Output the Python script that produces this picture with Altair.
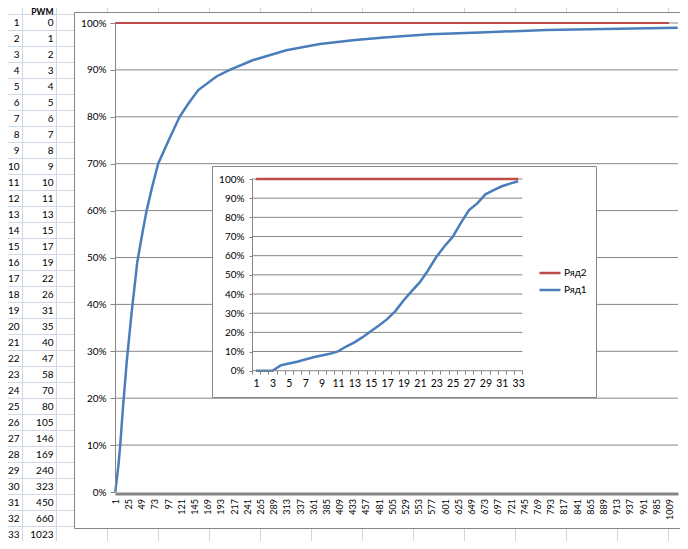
import altair as alt
import pandas as pd

# ---------------- data ----------------
row_numbers = list(range(1, 34))
pwm_values = [0, 1, 2, 3, 4, 5, 6, 7, 8, 9, 10, 11, 13, 15, 17, 19, 22, 26, 31, 35,
              40, 47, 58, 70, 80, 105, 146, 169, 240, 323, 450, 660, 1023]

# big chart: category index (1..1024) and value of "Ряд1"
main_x = [1, 4, 7, 10, 15, 22, 31, 41, 50, 58, 68, 79, 100, 118, 135, 152, 185, 209,
          252, 312, 373, 433, 490, 573, 664, 785, 918, 1024]
main_ryad1 = [0.0, 0.03, 0.06, 0.10, 0.18, 0.28, 0.385, 0.49, 0.55, 0.60, 0.65, 0.70,
              0.755, 0.80, 0.83, 0.857, 0.886, 0.90, 0.921, 0.942, 0.955, 0.963,
              0.969, 0.976, 0.980, 0.985, 0.988, 0.990]
main_ryad2_x = [1, 1008]
main_ryad2 = [1.0, 1.0]

# inset chart: index 1..33
inset_x = list(range(1, 34))
inset_ryad1 = [0.0, 0.0, 0.0, 0.028, 0.038, 0.047, 0.058, 0.07, 0.079, 0.088, 0.101,
               0.126, 0.148, 0.175, 0.206, 0.236, 0.269, 0.311, 0.366, 0.415, 0.462,
               0.524, 0.593, 0.649, 0.698, 0.771, 0.838, 0.873, 0.92, 0.942, 0.962,
               0.976, 0.988]
inset_ryad2 = [1.0] * 33

percent_ticks = [i / 10 for i in range(11)]
main_x_labels = list(range(1, 1010, 24))
inset_x_labels = list(range(1, 34, 2))
series_names = ["Ряд2", "Ряд1"]

# ---------------- layout / style ----------------
W, H = 672, 533
M = 8  # page margin
GRAY = "#868686"
BLUE = "#4a7ebb"
RED = "#be4b48"
SHEET_LINE = "#d0d7e5"
FONT = "Lato"

one = pd.DataFrame({"k": [0]})

# ---------------- spreadsheet background ----------------
sheet_xs = alt.Scale(domain=[0, 12], range=[56 - M + 0.5, 668 - M + 0.5], nice=False, zero=False)
sheet_ys = alt.Scale(domain=[0, 33], range=[14 - M + 0.5, 542 - M + 0.5], nice=False, zero=False)

col_edges = [-2 / 3] + list(range(13))
sheet_vlines = alt.Chart(pd.DataFrame({"c": col_edges})).mark_rule(
    color=SHEET_LINE, strokeWidth=1
).encode(
    x=alt.X("c:Q", scale=sheet_xs, axis=None),
    y=alt.value(0), y2=alt.value(H),
)
sheet_hlines = alt.Chart(pd.DataFrame({"r": list(range(34))})).mark_rule(
    color=SHEET_LINE, strokeWidth=1
).encode(
    y=alt.Y("r:Q", scale=sheet_ys, axis=None),
    x=alt.value(0), x2=alt.value(W),
)

sheet_df = pd.DataFrame({"r": row_numbers, "pwm": pwm_values})
row_text = alt.Chart(sheet_df).transform_calculate(yc="datum.r - 0.5").mark_text(
    align="right", baseline="middle", dx=-3, font=FONT, fontSize=10, color="black"
).encode(
    x=alt.XDatum(-2 / 3, scale=sheet_xs, axis=None),
    y=alt.Y("yc:Q", scale=sheet_ys, axis=None),
    text="r:Q",
)
pwm_text = alt.Chart(sheet_df).transform_calculate(yc="datum.r - 0.5").mark_text(
    align="right", baseline="middle", dx=-3, font=FONT, fontSize=10, color="black"
).encode(
    x=alt.XDatum(0, scale=sheet_xs, axis=None),
    y=alt.Y("yc:Q", scale=sheet_ys, axis=None),
    text="pwm:Q",
)
pwm_header = alt.Chart(one).mark_text(
    align="right", baseline="top", dx=-3, dy=0, font=FONT, fontSize=8.5,
    fontWeight="bold", color="black"
).encode(
    x=alt.XDatum(0, scale=sheet_xs, axis=None),
    y=alt.value(0),
    text=alt.value("PWM"),
)

# ---------------- main chart ----------------
main_frame = alt.Chart(one).mark_rect(fill="white", stroke=GRAY, strokeWidth=1).encode(
    x=alt.value(74 - M + 0.5), x2=alt.value(W + 10),
    y=alt.value(12 - M + 0.5), y2=alt.value(528 - M + 0.5),
)

mxs = alt.Scale(domain=[0.5, 1024.5], range=[115 - M, 678 - M], nice=False, zero=False)
mys = alt.Scale(domain=[0, 1], range=[492 - M, 23 - M], nice=False, zero=False)

main_y_axis = alt.Axis(
    orient="left", offset=-(115 - M), values=percent_ticks, format=".0%", grid=False,
    domainColor=GRAY, domainWidth=1, tickColor=GRAY, tickSize=5, labelPadding=4,
    labelFont=FONT, labelFontSize=10, labelColor="black", title=None, zindex=1,
)
main_x_axis = alt.Axis(
    orient="bottom", offset=(493.5 - M) - H, values=main_x_labels, format="d",
    labelAngle=270, ticks=False, grid=False, domainColor=GRAY, domainWidth=3,
    labelPadding=5, labelFont=FONT, labelFontSize=9, labelColor="black",
    labelOverlap=False, labelFlush=False, labelBound=False, title=None, zindex=1,
)

main_grid = alt.Chart(pd.DataFrame({"p": percent_ticks[1:]})).mark_rule(
    color=GRAY, strokeWidth=1
).encode(
    x=alt.XDatum(0.5, scale=mxs, axis=None),
    x2=alt.X2Datum(1024.5),
    y=alt.Y("p:Q", scale=mys, axis=main_y_axis),
)
main_red = alt.Chart(pd.DataFrame({"x": main_ryad2_x, "v": main_ryad2})).mark_line(
    color=RED, strokeWidth=2
).encode(
    x=alt.X("x:Q", scale=mxs, axis=None),
    y=alt.Y("v:Q", scale=mys, axis=None),
)
main_blue = alt.Chart(pd.DataFrame({"x": main_x, "v": main_ryad1})).mark_line(
    color=BLUE, strokeWidth=2.5
).encode(
    x=alt.X("x:Q", scale=mxs, axis=main_x_axis),
    y=alt.Y("v:Q", scale=mys, axis=None),
)

# ---------------- inset chart ----------------
inset_frame = alt.Chart(one).mark_rect(fill="white", stroke=GRAY, strokeWidth=1).encode(
    x=alt.value(212 - M + 0.5), x2=alt.value(596 - M + 0.5),
    y=alt.value(166 - M + 0.5), y2=alt.value(397 - M + 0.5),
)

ixs = alt.Scale(domain=[0.5, 33.5], range=[252 - M, 522.3 - M], nice=False, zero=False)
iys = alt.Scale(domain=[0, 1], range=[370.7 - M, 179 - M], nice=False, zero=False)

inset_y_axis = alt.Axis(
    orient="left", offset=-(252 - M), values=percent_ticks, format=".0%", grid=False,
    domainColor=GRAY, domainWidth=1, tickColor=GRAY, tickSize=3, labelPadding=5,
    labelFont=FONT, labelFontSize=10, labelColor="black", title=None, zindex=1,
)
inset_tick_axis = alt.Axis(
    orient="bottom", offset=(370.2 - M) - H, values=[i + 0.5 for i in range(34)],
    labels=False, domain=False, grid=False, tickColor=GRAY, tickSize=4, title=None,
    zindex=1,
)
inset_label_axis = alt.Axis(
    orient="bottom", offset=(370.2 - M) - H, values=inset_x_labels, format="d",
    ticks=False, grid=False, domainColor=GRAY, domainWidth=1, labelPadding=8,
    labelFont=FONT, labelFontSize=10.5, labelColor="black", labelOverlap=False,
    labelFlush=False, labelBound=False, title=None, zindex=1,
)

inset_grid = alt.Chart(pd.DataFrame({"p": percent_ticks[1:]})).mark_rule(
    color=GRAY, strokeWidth=1
).encode(
    x=alt.XDatum(0.5, scale=ixs, axis=inset_tick_axis),
    x2=alt.X2Datum(33.5),
    y=alt.Y("p:Q", scale=iys, axis=inset_y_axis),
)

inset_df = pd.concat([
    pd.DataFrame({"i": inset_x, "v": inset_ryad2, "s": series_names[0], "o": 0}),
    pd.DataFrame({"i": inset_x, "v": inset_ryad1, "s": series_names[1], "o": 1}),
])
inset_lines = alt.Chart(inset_df).mark_line(strokeWidth=2.5).encode(
    x=alt.X("i:Q", scale=ixs, axis=inset_label_axis),
    y=alt.Y("v:Q", scale=iys, axis=None),
    color=alt.Color(
        "s:N",
        scale=alt.Scale(domain=series_names, range=[RED, BLUE]),
        legend=alt.Legend(
            orient="none", legendX=538 - M, legendY=261 - M, title=None,
            symbolType="stroke", symbolSize=441, symbolStrokeWidth=2.5,
            labelFont=FONT, labelFontSize=10, labelColor="black", labelOffset=2,
            rowPadding=0, padding=0, offset=0,
        ),
    ),
    order="o:Q",
)

chart = alt.layer(
    sheet_vlines, sheet_hlines, row_text, pwm_text, pwm_header,
    main_frame, main_grid, main_red, main_blue,
    inset_frame, inset_grid, inset_lines,
).resolve_scale(
    x="independent", y="independent", color="independent"
).resolve_axis(
    x="independent", y="independent"
).properties(
    width=W, height=H, padding=0, background="white",
    autosize=alt.AutoSizeParams(type="none"),
).configure_view(stroke=None)

chart.save("out.html", embed_options={"renderer": "svg", "actions": False})
